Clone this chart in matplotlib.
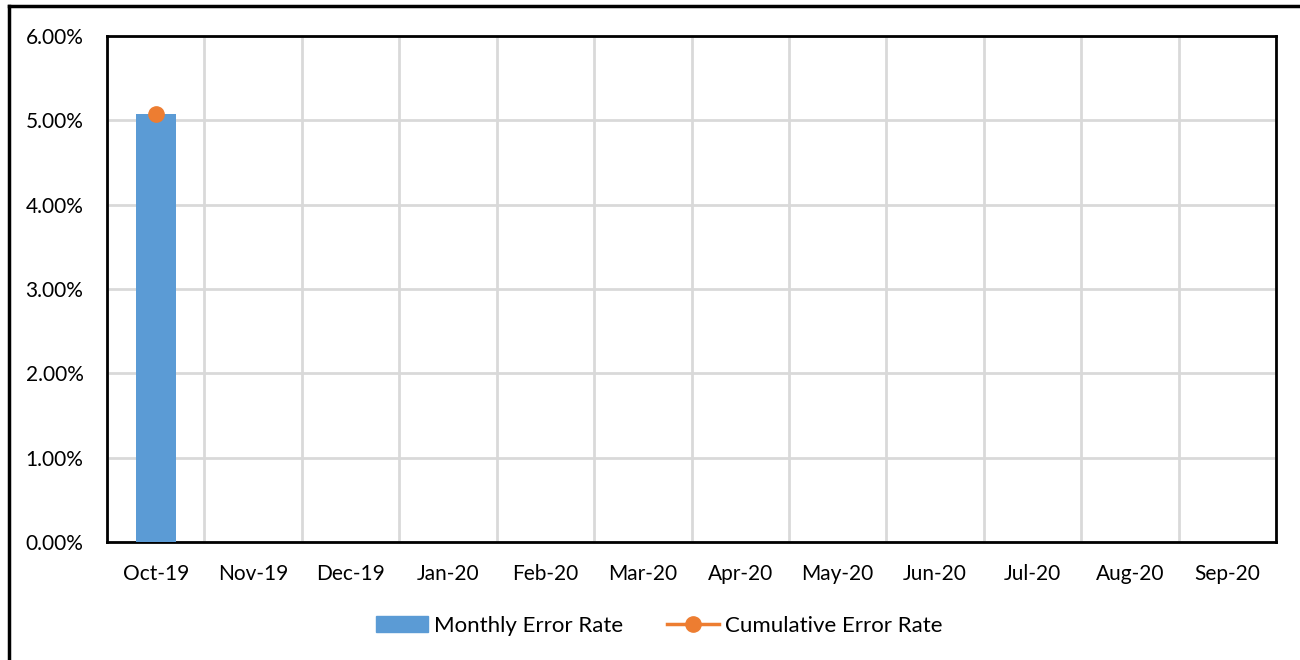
import matplotlib
matplotlib.use("Agg")
import matplotlib.pyplot as plt
from matplotlib.lines import Line2D
from matplotlib.patches import Patch
import numpy as np

months = ["Oct-19", "Nov-19", "Dec-19", "Jan-20", "Feb-20", "Mar-20",
          "Apr-20", "May-20", "Jun-20", "Jul-20", "Aug-20", "Sep-20"]
monthly_rate = [5.08, None, None, None, None, None, None, None, None, None, None, None]
cumulative_rate = [5.08, None, None, None, None, None, None, None, None, None, None, None]
yticks = [0, 1, 2, 3, 4, 5, 6]

plt.rcParams['font.family'] = ['Lato', 'DejaVu Sans']

fig = plt.figure(figsize=(13, 6.6), dpi=100)
ax = fig.add_axes([107/1300, 1 - 542/660, (1276-107)/1300, (542-36)/660])

x = np.arange(len(months))
bar_vals = [v if v is not None else 0 for v in monthly_rate]
bar_mask = [v is not None for v in monthly_rate]
ax.bar(x[bar_mask], np.array(bar_vals)[bar_mask], width=0.41, color='#5b9bd5', zorder=3)

cx = [i for i, v in enumerate(cumulative_rate) if v is not None]
cy = [v for v in cumulative_rate if v is not None]
ax.plot(cx, cy, color='#ed7d31', lw=2.5, marker='o', markersize=11, zorder=4)

ax.set_xlim(-0.5, len(months) - 0.5)
ax.set_ylim(0, 6)
ax.set_yticks(yticks)
ax.set_yticklabels([f"{v:.2f}%" for v in yticks])
ax.set_xticks(x)
ax.set_xticklabels(months)
ax.set_xticks(np.arange(len(months) + 1) - 0.5, minor=True)
ax.grid(axis='y', which='major', color='#d9d9d9', lw=2, zorder=0)
ax.grid(axis='x', which='minor', color='#d9d9d9', lw=2, zorder=0)
ax.tick_params(axis='both', which='both', length=0, labelsize=15, colors='black')
ax.tick_params(axis='x', pad=16)
ax.tick_params(axis='y', pad=17)
for s in ax.spines.values():
    s.set_color('black')
    s.set_linewidth(2)

handles = [Patch(color='#5b9bd5'),
           Line2D([0], [0], color='#ed7d31', lw=2.5, marker='o', markersize=11)]
fig.legend(handles, ["Monthly Error Rate", "Cumulative Error Rate"],
           loc='center', bbox_to_anchor=(0.507, 1 - 626/660), ncol=2, frameon=False,
           fontsize=16, handlelength=2.35, handletextpad=0.27, columnspacing=1.95)

# outer chart frame
fig.add_artist(Line2D([9/1300, 9/1300], [0, 1 - 6/660], color='black', lw=2.5, transform=fig.transFigure))
fig.add_artist(Line2D([9/1300, 1], [1 - 6/660, 1 - 6/660], color='black', lw=2.5, transform=fig.transFigure))

fig.savefig("out.png", dpi=100)
